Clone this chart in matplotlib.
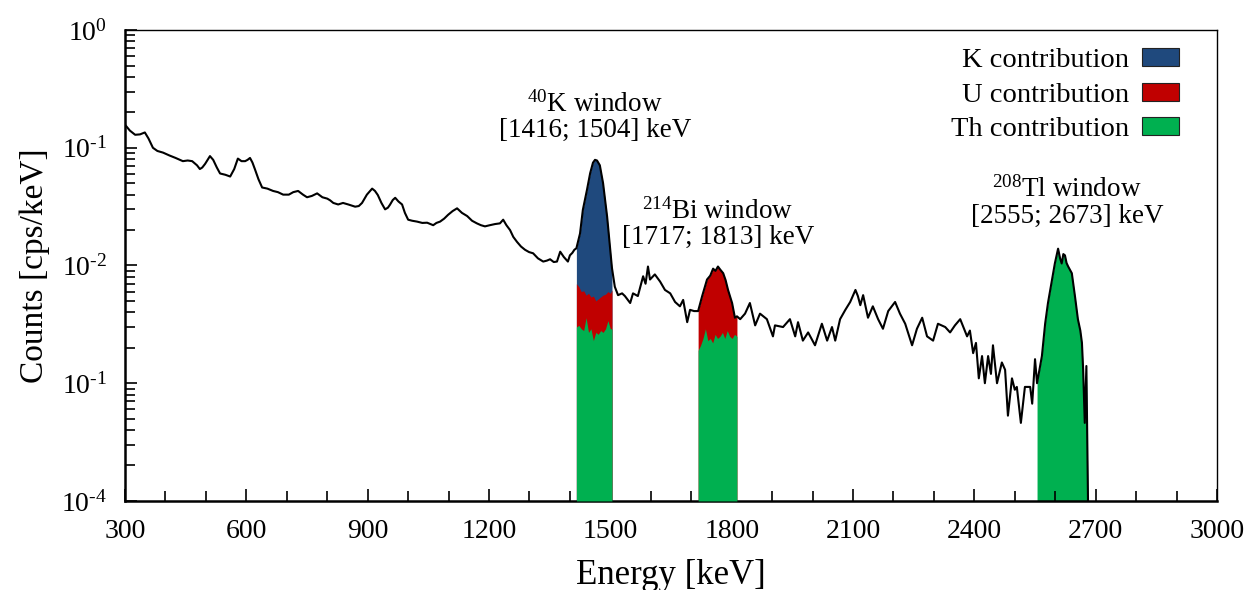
import numpy as np
import matplotlib
matplotlib.use("Agg")
import matplotlib.pyplot as plt
from matplotlib.patches import Patch
from matplotlib.ticker import FixedLocator, FixedFormatter, MultipleLocator, LogLocator, NullFormatter

plt.rcParams['font.family'] = ['Liberation Serif', 'DejaVu Serif']
plt.rcParams['mathtext.fontset'] = 'custom'
plt.rcParams['mathtext.rm'] = 'Liberation Serif'
plt.rcParams['mathtext.it'] = 'Liberation Serif:italic'
plt.rcParams['mathtext.bf'] = 'Liberation Serif:bold'

# measured spectrum (energy in keV, counts in cps/keV)
energy = [300, 312, 325, 337, 349, 358, 369, 380, 394, 410, 425, 443, 455, 466, 478, 485, 491, 498,
          510, 518, 527, 535, 548, 560, 570, 579, 588, 597, 603, 609, 615, 621, 630, 639, 652, 666,
          678, 691, 705, 716, 728, 740, 750, 762, 775, 788, 800, 807, 815, 827, 839, 852, 869, 878,
          886, 898, 911, 918, 925, 934, 943, 950, 955, 962, 968, 976, 985, 992, 1000, 1010, 1022,
          1035, 1047, 1055, 1062, 1070, 1079, 1089, 1099, 1110, 1121, 1133, 1146, 1158, 1170, 1180,
          1190, 1202, 1215, 1227, 1235, 1243, 1252, 1260, 1269, 1279, 1289, 1299, 1309, 1321, 1334,
          1343, 1351, 1360, 1368, 1376, 1385, 1395, 1400, 1406, 1411, 1416, 1425, 1432, 1442, 1450,
          1457, 1462, 1467, 1474, 1482, 1492, 1499, 1504, 1511, 1519, 1529, 1536, 1549, 1556, 1568,
          1581, 1587, 1593, 1598, 1610, 1623, 1635, 1648, 1660, 1672, 1680, 1690, 1697, 1707, 1717,
          1727, 1739, 1747, 1754, 1760, 1766, 1772, 1779, 1785, 1791, 1801, 1808, 1813, 1821, 1833,
          1845, 1858, 1870, 1887, 1902, 1907, 1927, 1944, 1957, 1964, 1976, 1989, 2006, 2023, 2036,
          2048, 2056, 2068, 2081, 2093, 2106, 2112, 2118, 2125, 2137, 2149, 2162, 2174, 2187, 2204,
          2216, 2229, 2246, 2258, 2271, 2283, 2298, 2310, 2328, 2340, 2352, 2365, 2382, 2389, 2397,
          2404, 2411, 2419, 2426, 2434, 2441, 2446, 2456, 2468, 2476, 2483, 2493, 2500, 2505, 2515,
          2525, 2538, 2543, 2550, 2555, 2567, 2575, 2582, 2592, 2599, 2607, 2612, 2616, 2620, 2624,
          2628, 2632, 2641, 2649, 2656, 2662, 2666, 2669, 2673, 2677, 2681]
counts = [0.157, 0.140, 0.129, 0.130, 0.135, 0.120, 0.100, 0.094, 0.091, 0.086, 0.082, 0.077, 0.078,
          0.077, 0.071, 0.066, 0.068, 0.073, 0.085, 0.079, 0.068, 0.0605, 0.059, 0.057, 0.066, 0.081,
          0.077, 0.077, 0.079, 0.082, 0.075, 0.066, 0.054, 0.046, 0.045, 0.043, 0.042, 0.040, 0.040,
          0.042, 0.043, 0.040, 0.038, 0.039, 0.041, 0.038, 0.037, 0.0358, 0.034, 0.033, 0.034, 0.033,
          0.0316, 0.032, 0.034, 0.040, 0.045, 0.043, 0.0397, 0.034, 0.030, 0.031, 0.0328, 0.036,
          0.0376, 0.035, 0.033, 0.028, 0.0245, 0.024, 0.0236, 0.023, 0.0231, 0.0225, 0.022, 0.023,
          0.0236, 0.025, 0.027, 0.029, 0.0306, 0.028, 0.0263, 0.024, 0.0228, 0.022, 0.0215, 0.022,
          0.0225, 0.0228, 0.0245, 0.022, 0.020, 0.0175, 0.0159, 0.0145, 0.0136, 0.013, 0.0127, 0.0115,
          0.0108, 0.011, 0.0113, 0.0107, 0.0108, 0.0131, 0.0118, 0.0108, 0.0122, 0.0128, 0.0136,
          0.0140, 0.0187, 0.0297, 0.0436, 0.0607, 0.0747, 0.079, 0.078, 0.071, 0.050, 0.026, 0.0145,
          0.0095, 0.0066, 0.0056, 0.0058, 0.0055, 0.0048, 0.0058, 0.0055, 0.0081, 0.0070, 0.0098,
          0.0076, 0.0084, 0.0073, 0.0062, 0.0058, 0.0049, 0.0045, 0.0051, 0.0033, 0.0042, 0.0041,
          0.0041, 0.0055, 0.0076, 0.0082, 0.0094, 0.0090, 0.0098, 0.0092, 0.0086, 0.0075, 0.0062,
          0.0048, 0.0036, 0.0037, 0.0035, 0.0039, 0.0048, 0.0031, 0.0039, 0.0035, 0.0025, 0.0031,
          0.0030, 0.0035, 0.0025, 0.0033, 0.0023, 0.0027, 0.0021, 0.0032, 0.0023, 0.0030, 0.0023,
          0.0035, 0.0042, 0.0049, 0.0062, 0.0055, 0.0046, 0.0056, 0.0036, 0.0045, 0.0035, 0.0029,
          0.0041, 0.0049, 0.0039, 0.0032, 0.0021, 0.0029, 0.0036, 0.0025, 0.0023, 0.0032, 0.0030,
          0.0027, 0.0031, 0.0035, 0.0025, 0.0028, 0.0018, 0.0022, 0.0011, 0.0017, 0.0010, 0.0017,
          0.0012, 0.0021, 0.0010, 0.0015, 0.0013, 0.00053, 0.0011, 0.00088, 0.00093, 0.00046,
          0.00093, 0.00093, 0.00067, 0.0016, 0.0010, 0.0017, 0.0032, 0.0048, 0.0076, 0.0104, 0.0139,
          0.0115, 0.0104, 0.0125, 0.0122, 0.0105, 0.0098, 0.0086, 0.0054, 0.0035, 0.0028, 0.0022,
          0.0013, 0.00046, 0.0014, 0.0001]

# contributions inside the windows
k_win = (1416, 1504)
bi_win = (1717, 1813)
tl_win = (2555, 2681)

k_e = [1416, 1422, 1428, 1434, 1440, 1446, 1452, 1458, 1464, 1470, 1476, 1482, 1488, 1494, 1500, 1504]
k_th = [0.0030, 0.0031, 0.0029, 0.0028, 0.0036, 0.0027, 0.0029, 0.0023, 0.0027, 0.0026, 0.0028,
        0.0027, 0.0029, 0.0034, 0.0029, 0.0029]
k_u = [0.0070, 0.0066, 0.0060, 0.0061, 0.0056, 0.0058, 0.0054, 0.0055, 0.0050, 0.0052, 0.0054,
       0.0056, 0.0057, 0.0060, 0.0058, 0.0062]

bi_e = [1717, 1723, 1729, 1735, 1741, 1747, 1753, 1759, 1765, 1771, 1777, 1783, 1789, 1795, 1801, 1807, 1813]
bi_th = [0.0019, 0.0021, 0.0024, 0.0029, 0.0023, 0.0024, 0.0022, 0.0026, 0.0024, 0.0025, 0.0027,
         0.0024, 0.0028, 0.0025, 0.0024, 0.0026, 0.0025]

ytick_vals = [1e-4, 1e-3, 1e-2, 1e-1, 1e0]
ytick_text = [r'$10^{\text{-}4}$', r'$10^{\text{-}1}$', r'$10^{\text{-}2}$', r'$10^{\text{-}1}$', r'$10^{0}$']

c_k = '#1F497D'
c_u = '#C00000'
c_th = '#00B050'

energy = np.array(energy)
counts = np.array(counts)
bottom = 1e-4

fig = plt.figure(figsize=(12.49, 5.9), dpi=100)
ax = fig.add_axes([0.1001, 0.151, 0.8743, 0.798])

def window(lo, hi):
    m = (energy >= lo) & (energy <= hi)
    return energy[m], counts[m]

# K window: blue (total), then U and Th layers on top
e, c = window(*k_win)
ax.fill_between(e, bottom, c, color=c_k, lw=0, zorder=1)
ax.fill_between(k_e, bottom, k_u, color=c_u, lw=0, zorder=2)
ax.fill_between(k_e, bottom, k_th, color=c_th, lw=0, zorder=3)

# Bi window
e, c = window(*bi_win)
ax.fill_between(e, bottom, c, color=c_u, lw=0, zorder=1)
ax.fill_between(bi_e, bottom, bi_th, color=c_th, lw=0, zorder=3)

# Tl window
e, c = window(*tl_win)
ax.fill_between(e, bottom, c, color=c_th, lw=0, zorder=1)

ax.plot(energy, counts, color='black', lw=1.5, zorder=5)

ax.set_yscale('log')
ax.set_xlim(300, 3000)
ax.set_ylim(1e-4, 1)

ax.xaxis.set_major_locator(MultipleLocator(300))
ax.xaxis.set_minor_locator(MultipleLocator(100))
ax.yaxis.set_major_locator(FixedLocator(ytick_vals))
ax.yaxis.set_major_formatter(FixedFormatter(ytick_text))
ax.yaxis.set_minor_locator(LogLocator(base=10, subs=np.arange(2, 10)))
ax.yaxis.set_minor_formatter(NullFormatter())

ax.tick_params(which='both', direction='in', top=False, right=False, width=1.2, labelsize=20)
ax.tick_params(which='major', length=8.5)
ax.tick_params(which='minor', length=7)
ax.tick_params(axis='x', pad=13)
ax.tick_params(axis='y', pad=13)

for s in ['left', 'bottom']:
    ax.spines[s].set_linewidth(1.8)
for s in ['top', 'right']:
    ax.spines[s].set_linewidth(1.0)

ax.set_xlabel('Energy [keV]', fontsize=25, labelpad=11)
ax.set_ylabel('Counts [cps/keV]', fontsize=24, labelpad=8)

ax.text(1462, 0.1825, '$^{40}$K window\n[1416; 1504] keV', ha='center', va='center',
        fontsize=19.5, linespacing=1.05)
ax.text(1766, 0.0225, '$^{214}$Bi window\n[1717; 1813] keV', ha='center', va='center',
        fontsize=19.5, linespacing=1.05)
ax.text(2629, 0.0342, '$^{208}$Tl window\n[2555; 2673] keV', ha='center', va='center',
        fontsize=19.5, linespacing=1.05)

handles = [Patch(facecolor=c_k, edgecolor='#222222', lw=0.8, label='K contribution'),
           Patch(facecolor=c_u, edgecolor='#222222', lw=0.8, label='U contribution'),
           Patch(facecolor=c_th, edgecolor='#222222', lw=0.8, label='Th contribution')]
ax.legend(handles=handles, loc='upper right', frameon=False, markerfirst=False, fontsize=20.5,
          handlelength=1.3, handleheight=0.6, handletextpad=0.45, labelspacing=0.33,
          borderaxespad=0.0, bbox_to_anchor=(0.9757, 0.986))

fig.savefig('out.png', dpi=100)
